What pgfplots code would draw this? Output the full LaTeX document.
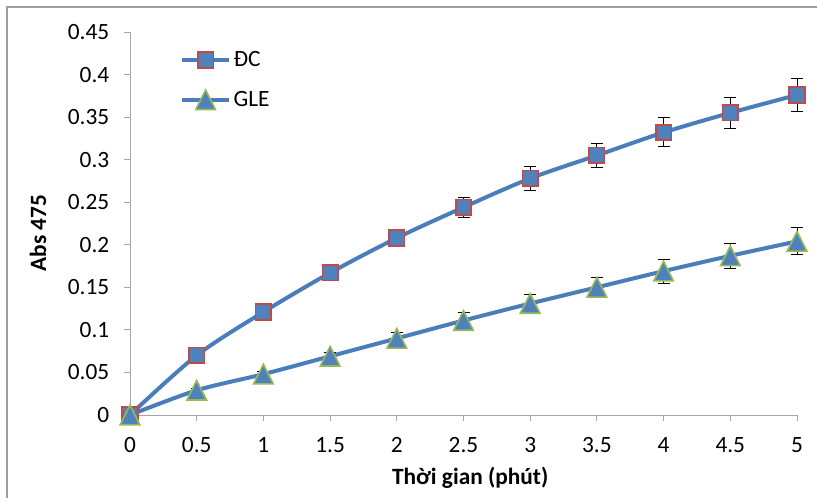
\documentclass[border=0pt]{standalone}
\usepackage{fontspec}
\setmainfont{Carlito}
\usepackage{pgfplots}
\pgfplotsset{compat=1.18}
\definecolor{serblue}{HTML}{4A7EBB}
\definecolor{fillblue}{HTML}{4F81BD}
\definecolor{mred}{HTML}{BE4B48}
\definecolor{mgreen}{HTML}{98B954}
\begin{document}
\begin{tikzpicture}
\useasboundingbox (0,0) rectangle (612.75pt,372.75pt);
\draw[line width=1.5pt, color=gray!75] (5.25pt,-2pt) -- (5.25pt,367.5pt) -- (615pt,367.5pt);
\begin{axis}[
  at={(97.5pt,61.5pt)}, anchor=south west,
  scale only axis, width=500.25pt, height=287.25pt,
  xmin=0, xmax=5, ymin=0, ymax=0.45,
  axis lines*=left,
  axis line style={gray!70, line width=0.75pt},
  tick style={gray!70, line width=0.75pt},
  tick align=outside, major tick length=4.5pt,
  xtick={0,0.5,...,5}, ytick={0,0.05,...,0.45},
  scaled ticks=false,
  /pgf/number format/assume math mode=true,
  xticklabel style={/pgf/number format/fixed, /pgf/number format/precision=1, yshift=-9pt},
  yticklabel style={/pgf/number format/fixed, /pgf/number format/precision=2, xshift=-7.5pt},
  ticklabel style={font=\fontsize{17.5}{19}\selectfont, black},
  xlabel={\textbf{Thời gian (phút)}},
  ylabel={\textbf{Abs 475}},
  label style={font=\fontsize{17.5}{19}\selectfont},
  xlabel style={at={(axis description cs:0.51,-0.1645)}, anchor=center},
  ylabel style={at={(axis description cs:-0.138,0.475)}, anchor=center, rotate=0},
  clip=false,
  legend style={at={(0.075,0.875)}, anchor=west, draw=none, fill=none,
    font=\fontsize{17.5}{19}\selectfont, row sep=13pt, inner sep=0pt},
  legend cell align=left,
  legend image code/.code={
    \draw[mark repeat=2,mark phase=2,#1] plot coordinates {(0pt,0pt)(17.5pt,0pt)(35pt,0pt)};
  },
]
% error bars first (behind the markers)
\addplot[draw=none, mark=none, forget plot,
  error bars/.cd, y dir=both, y explicit,
  error bar style={draw=black, line width=0.75pt},
  error mark options={draw=black, rotate=90, mark size=4.5pt, line width=0.75pt}]
table[x=x, y=y, y error=e] {
x y e
0 0 0
0.5 0.070 0.003
1 0.121 0.004
1.5 0.167 0.005
2 0.208 0.010
2.5 0.244 0.012
3 0.278 0.014
3.5 0.305 0.014
4 0.332 0.017
4.5 0.355 0.018
5 0.376 0.019
};
\addplot[draw=none, mark=none, forget plot,
  error bars/.cd, y dir=both, y explicit,
  error bar style={draw=black, line width=0.75pt},
  error mark options={draw=black, rotate=90, mark size=4.5pt, line width=0.75pt}]
table[x=x, y=y, y error=e] {
x y e
0 0 0
0.5 0.029 0.002
1 0.048 0.003
1.5 0.069 0.005
2 0.090 0.007
2.5 0.111 0.009
3 0.131 0.011
3.5 0.150 0.012
4 0.169 0.014
4.5 0.187 0.015
5 0.204 0.016
};
\addplot[serblue, line width=3pt, smooth,
  mark=square*, mark size=5.8pt,
  mark options={fill=fillblue, draw=mred, line width=1.2pt, solid}]
table[x=x, y=y] {
x y
0 0
0.5 0.070
1 0.121
1.5 0.167
2 0.208
2.5 0.244
3 0.278
3.5 0.305
4 0.332
4.5 0.355
5 0.376
};
\addlegendentry{ĐC}
\addplot[serblue, line width=3pt, smooth,
  mark=triangle*, mark size=8.5pt,
  mark options={yshift=-2.4pt, yscale=1.15, fill=fillblue, draw=mgreen, line width=1.2pt, solid}]
table[x=x, y=y] {
x y
0 0
0.5 0.029
1 0.048
1.5 0.069
2 0.090
2.5 0.111
3 0.131
3.5 0.150
4 0.169
4.5 0.187
5 0.204
};
\addlegendentry{GLE}
\end{axis}
\end{tikzpicture}
\end{document}
